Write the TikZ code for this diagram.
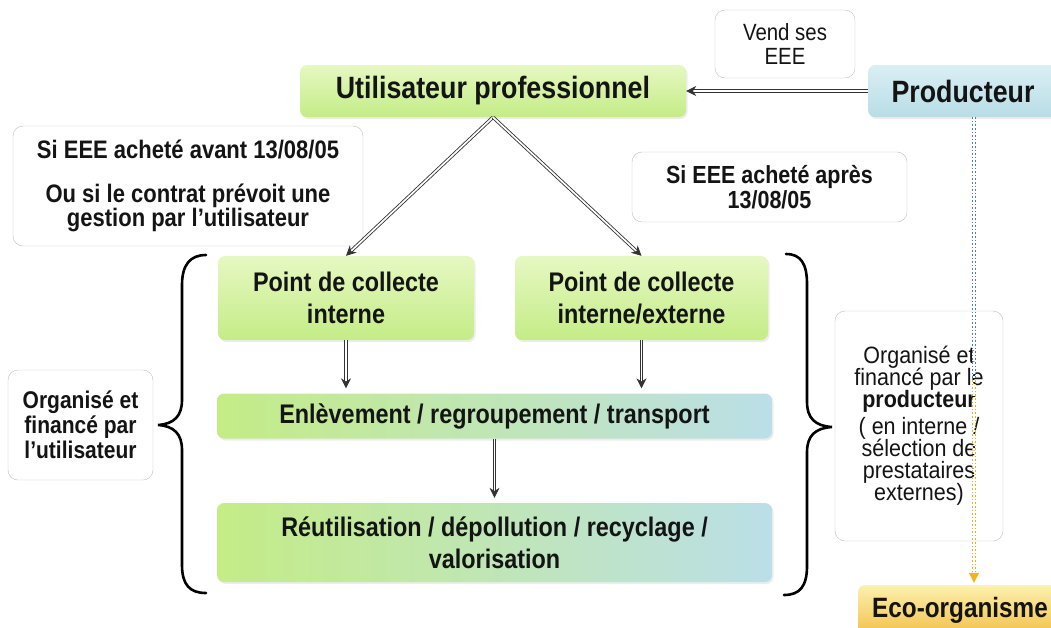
\documentclass[tikz,border=0pt]{standalone}
\usepackage{fontspec}
\setmainfont{Liberation Sans}
\usepackage{graphicx}
\usetikzlibrary{arrows.meta,shadows}

\definecolor{gtop}{HTML}{E6F8C2}
\definecolor{gbot}{HTML}{C4EC86}
\definecolor{mixmid}{HTML}{CDEDB4}
\definecolor{bright}{HTML}{BBDFE7}
\definecolor{btop}{HTML}{DAEFF4}
\definecolor{bbot}{HTML}{B8DDE6}
\definecolor{etop}{HTML}{FCF1AE}
\definecolor{ebot}{HTML}{F2C04A}
\definecolor{dotblue}{HTML}{4F7FA8}
\definecolor{dotyel}{HTML}{DDB22E}
\definecolor{tipyel}{HTML}{F0B41E}

\newcommand{\tallt}[2][1.15]{\scalebox{1}[#1]{\vbox{\let\\\cr\lineskiplimit=-50pt
  \halign{\hfil##\hfil\cr#2\crcr}}}}
\newcommand{\gap}[1]{\noalign{\vskip#1}}

\begin{document}
\begin{tikzpicture}[
  x = 1pt, y = -1pt,
  box/.style = {
    rounded corners = 7pt,
    inner sep = 0pt,
    text = black!92,
    font = \bfseries\fontsize{23.4}{27.5}\selectfont,
    drop shadow = {opacity = 0.15, shadow xshift = 1.5pt, shadow yshift = -2pt}
  },
  greenbox/.style = {
    box,
    top color = gtop,
    bottom color = gbot
  },
  mixbox/.style = {
    box,
    left color = gbot,
    middle color = mixmid,
    right color = bright
  },
  note/.style = {
    draw = black!25,
    fill = white,
    rounded corners = 10pt,
    inner sep = 0pt,
    text = black!92,
    font = \bfseries\fontsize{21.5}{21.7}\selectfont
  },
  dbl/.style = {
    draw = black!80,
    line width = 0.85pt,
    double = white,
    double distance = 1.7pt,
    -{Stealth[length = 10pt, width = 10pt]}
  },
  dotline/.style = {
    draw = #1,
    line width = 1.3pt,
    double = white,
    double distance = 1.3pt,
    dash pattern = on 1.6pt off 2pt
  },
  brace/.style = {
    line width = 2.6pt,
    line cap = round
  }
]
  \useasboundingbox (0, 0) rectangle (1051, 627);
  \clip (0, 0) rectangle (1051, 627);

  \node[greenbox, minimum width = 386pt, minimum height = 52pt,
    font = \bfseries\fontsize{26.8}{30}\selectfont] (u) at (493, 91)
    {\tallt{Utilisateur professionnel}};
  \node[box, top color = btop, bottom color = bbot, minimum width = 190pt,
    minimum height = 52pt, font = \bfseries\fontsize{26.8}{30}\selectfont] (p) at (963, 91)
    {\tallt{Producteur}};
  \node[note, minimum width = 140pt, minimum height = 68pt,
    font = \fontsize{20.4}{21.7}\selectfont] (vend) at (785, 44)
    {\tallt{Vend ses\\EEE}};

  \node[note, minimum width = 350pt, minimum height = 120pt,
    font = \bfseries\fontsize{22}{20.9}\selectfont] (avant) at (188, 186)
    {\tallt{Si EEE acheté avant 13/08/05\\\gap{18pt}Ou si le contrat prévoit une\\gestion par l’utilisateur}};
  \node[note, minimum width = 275pt, minimum height = 70pt] (apres) at (769.5, 187)
    {\tallt{Si EEE acheté après\\13/08/05}};

  \node[greenbox, minimum width = 256pt, minimum height = 84pt] (pi) at (346, 298)
    {\tallt{Point de collecte\\interne}};
  \node[greenbox, minimum width = 253pt, minimum height = 84pt] (pe) at (641.5, 298)
    {\tallt{Point de collecte\\interne/externe}};
  \node[mixbox, minimum width = 555pt, minimum height = 45pt] (enl) at (494.5, 416)
    {\tallt{Enlèvement / regroupement / transport}};
  \node[mixbox, minimum width = 555pt, minimum height = 79pt] (reu) at (494.5, 542.5)
    {\tallt{Réutilisation / dépollution / recyclage /\\valorisation}};

  \node[note, minimum width = 145pt, minimum height = 110pt,
    font = \bfseries\fontsize{21}{21.7}\selectfont] (ou) at (80.5, 425)
    {\tallt{Organisé et\\financé par\\l’utilisateur}};
  \node[note, minimum width = 168pt, minimum height = 230pt,
    font = \fontsize{21.5}{20}\selectfont] (op) at (919, 426)
    {\tallt[1.1]{Organisé et\\financé par le\\\textbf{producteur}\\\gap{4.5pt}( en interne /\\sélection de\\prestataires\\externes)}};

  \node[box, top color = etop, bottom color = ebot, minimum width = 204pt,
    minimum height = 50pt, font = \bfseries\fontsize{24.3}{28}\selectfont] (e) at (960, 610)
    {\tallt{Eco-organisme}};

  \draw[dbl] (p.west) -- (u.east);
  \draw[dbl] (u.south) -- (pi.north);
  \draw[dbl] (u.south) -- (pe.north);
  \draw[dbl, shorten > = 5pt] (pi.south) -- (pi.south |- enl.north);
  \draw[dbl, shorten > = 5pt] (pe.south) -- (pe.south |- enl.north);
  \draw[dbl, shorten > = 5pt] (enl.south) -- (reu.north);

  \coordinate (d) at (974, 380);
  \draw[dotline = dotblue] ([xshift = 11pt]p.south) -- (d);
  \draw[dotline = dotyel, shorten > = 2pt,
    -{Triangle[length = 10pt, width = 10pt, fill = tipyel, color = tipyel]}]
    (d) -- ([xshift = 14pt]e.north);

  \draw[brace] (206, 255) .. controls (190, 255) and (182, 265) .. (182, 285)
    -- (182, 400) .. controls (182, 416) and (174, 424) .. (158, 425)
    .. controls (174, 426) and (182, 434) .. (182, 450)
    -- (182, 565) .. controls (182, 585) and (190, 593) .. (206, 593);
  \draw[brace] (786, 254) .. controls (801, 254) and (807, 264) .. (807, 284)
    -- (807, 402) .. controls (807, 418) and (815, 426) .. (832, 427)
    .. controls (815, 428) and (807, 436) .. (807, 452)
    -- (807, 566) .. controls (807, 586) and (800, 595) .. (784, 595);
\end{tikzpicture}
\end{document}
